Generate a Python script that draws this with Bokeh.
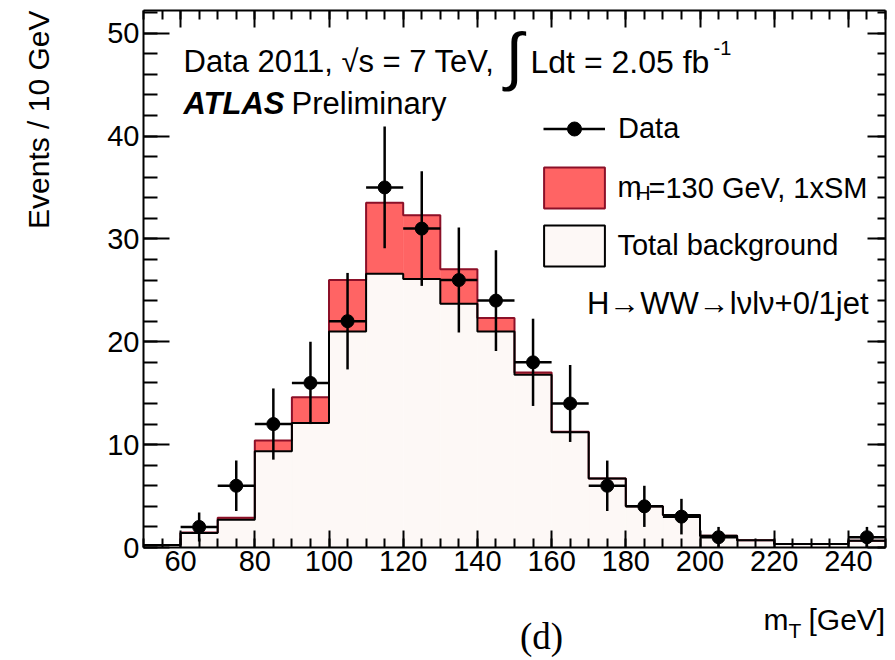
import math
from bokeh.plotting import figure
from bokeh.models import (ColumnDataSource, Label, Legend, LegendItem, LinearAxis,
                          SingleIntervalTicker, Range1d, CustomJSTickFormatter)
from bokeh.embed import file_html
from bokeh.resources import INLINE

# ---------------- data ----------------
bin_edges = [50, 60, 70, 80, 90, 100, 110, 120, 130, 140, 150,
             160, 170, 180, 190, 200, 210, 220, 230, 240, 250]
background = [0.25, 1.4, 2.7, 9.35, 12.1, 21.0, 26.6, 26.1, 23.7, 21.0,
              16.8, 11.2, 6.7, 4.0, 3.15, 1.15, 0.7, 0.35, 0.35, 0.65]
signal = [0.0, 0.05, 0.2, 1.05, 2.5, 5.0, 6.9, 6.2, 3.35, 1.3,
          0.2, 0.05, 0.0, 0.0, 0.0, 0.0, 0.0, 0.0, 0.0, 0.0]
data_x = [65, 75, 85, 95, 105, 115, 125, 135, 145, 155, 165, 175, 185, 195, 205, 245]
data_y = [2, 6, 12, 16, 22, 35, 31, 26, 24, 18, 14, 6, 4, 3, 1, 1]
data_err = [1.41, 2.45, 3.46, 4.0, 4.69, 5.92, 5.57, 5.10, 4.90, 4.24, 3.74,
            2.45, 2.0, 1.73, 1.0, 1.0]

XMIN, XMAX = 50, 250
YMIN, YMAX = 0, 52.2

RED = "#FF6464"
DARKRED = "#8C1028"
BKG = "#FDF8F6"
FONT = "Liberation Sans"

# ---------------- page layout (pixels) ----------------
W, H = 895, 660
FL, FR, FT, FB = 143, 885, 10, 547      # where the axes box sits on the page
SX = (FR - FL) / (XMAX - XMIN)
SY = (FB - FT) / (YMAX - YMIN)


def dx(px):
    return XMIN + (px - FL) / SX


def dy(py):
    return YMIN + (FB - py) / SY


# ---------------- derived sources ----------------
total = [b + s for b, s in zip(background, signal)]
half = (bin_edges[1] - bin_edges[0]) / 2.0
bins = ColumnDataSource(dict(left=bin_edges[:-1], right=bin_edges[1:],
                             bkg=background, tot=total))
steps_bkg = ColumnDataSource(dict(x=bin_edges, y=background + [background[-1]]))
steps_tot = ColumnDataSource(dict(x=bin_edges, y=total + [total[-1]]))
pts = ColumnDataSource(dict(
    x=data_x, y=data_y,
    lo=[y - e for y, e in zip(data_y, data_err)],
    hi=[y + e for y, e in zip(data_y, data_err)],
    xl=[x - half for x in data_x], xr=[x + half for x in data_x]))

# ---------------- figure (frame = whole canvas, axes at fixed locations) ----------------
p = figure(width=W, height=H,
           x_range=Range1d(dx(0), dx(W)), y_range=Range1d(dy(H), dy(0)),
           output_backend="svg", toolbar_location=None,
           min_border_left=0, min_border_right=0, min_border_top=0, min_border_bottom=0)
p.xgrid.visible = False
p.ygrid.visible = False
p.outline_line_color = None
p.background_fill_color = "white"
p.border_fill_color = "white"


def style_axis(ax, tin, tmin, loc, bounds, labels=True):
    ax.fixed_location = loc
    ax.bounds = bounds
    ax.axis_line_width = 2
    ax.axis_line_color = "black"
    ax.major_tick_line_width = 2
    ax.minor_tick_line_width = 2
    ax.major_tick_line_color = "black"
    ax.minor_tick_line_color = "black"
    ax.major_tick_out = 0
    ax.minor_tick_out = 0
    ax.major_tick_in = tin
    ax.minor_tick_in = tmin
    if labels:
        ax.major_label_text_font = FONT
        ax.major_label_text_font_size = "29px"
        ax.major_label_text_color = "black"
    else:
        ax.formatter = CustomJSTickFormatter(code="return ''")
        ax.major_label_text_font_size = "1px"
        ax.major_label_standoff = 0


p.xaxis.ticker = SingleIntervalTicker(interval=20, num_minor_ticks=4)
p.yaxis.ticker = SingleIntervalTicker(interval=10, num_minor_ticks=5)
style_axis(p.xaxis[0], 17, 9, YMIN, (XMIN, XMAX))
style_axis(p.yaxis[0], 26, 14, XMIN, (YMIN, YMAX))
p.xaxis.major_label_standoff = 3
p.yaxis.major_label_standoff = 4

top_ax = LinearAxis(ticker=SingleIntervalTicker(interval=20, num_minor_ticks=4))
style_axis(top_ax, 17, 9, YMAX, (XMIN, XMAX), labels=False)
p.add_layout(top_ax, "above")
right_ax = LinearAxis(ticker=SingleIntervalTicker(interval=10, num_minor_ticks=5))
style_axis(right_ax, 18, 8, XMAX, (YMIN, YMAX), labels=False)
p.add_layout(right_ax, "right")

# ---------------- histograms ----------------
p.quad(left="left", right="right", bottom="bkg", top="tot", source=bins,
       fill_color=RED, line_color=RED, line_width=0.5)
p.quad(left="left", right="right", bottom=0, top="bkg", source=bins,
       fill_color=BKG, line_color=BKG, line_width=0.5)
p.step(x="x", y="y", source=steps_tot, mode="after", line_color=DARKRED, line_width=2)
p.step(x="x", y="y", source=steps_bkg, mode="after", line_color="black", line_width=2)

# legend proxies (not drawn in the plot)
sig_proxy = p.quad(left="left", right="right", bottom=0, top="tot", source=bins,
                   fill_color=RED, line_color=DARKRED, line_width=2, visible=False)
bkg_proxy = p.quad(left="left", right="right", bottom=0, top="bkg", source=bins,
                   fill_color=BKG, line_color="black", line_width=2, visible=False)

# ---------------- data points ----------------
r_v = p.segment(x0="x", y0="lo", x1="x", y1="hi", source=pts, line_color="black", line_width=2.5)
r_h = p.segment(x0="xl", y0="y", x1="xr", y1="y", source=pts, line_color="black", line_width=2.5)
r_d = p.scatter(x="x", y="y", source=pts, size=13, color="black")

# ---------------- legends ----------------
leg_a = Legend(items=[LegendItem(label="Data", renderers=[r_h, r_d])],
               location=(543, H - 145.5), glyph_width=62, glyph_height=35,
               label_height=35, label_standoff=13, padding=0, margin=0,
               border_line_color=None, background_fill_alpha=0,
               label_text_font=FONT, label_text_font_size="29px", label_text_color="black")
leg_b = Legend(items=[LegendItem(label="m", renderers=[sig_proxy]),
                      LegendItem(label="Total background", renderers=[bkg_proxy])],
               location=(536.4, H - 271.1), glyph_width=76, glyph_height=51,
               label_height=51, spacing=7, label_standoff=5, padding=0, margin=0,
               border_line_color=None, background_fill_alpha=0,
               label_text_font=FONT, label_text_font_size="29px", label_text_color="black")
p.add_layout(leg_a)
p.add_layout(leg_b)


# ---------------- text ----------------
def lab(text, px, py, size, align="left", style="normal", font=FONT, angle=0.0):
    p.add_layout(Label(x=dx(px), y=dy(py), text=text, text_font=font,
                       text_font_size=size, text_align=align, text_baseline="middle",
                       text_font_style=style, text_color="black", angle=angle))


lab("Events / 10 GeV", 38, 10, "30px", align="right", angle=math.pi / 2)
lab("Data 2011, \u221as = 7 TeV,", 183, 61, "31px")
lab("\u222b", 505, 55, "64px")
lab("Ldt = 2.05 fb", 530, 61, "32px")
lab("-1", 713, 47, "20px")
lab("ATLAS", 183, 103, "31px", style="bold italic")
lab("Preliminary", 291, 103, "31px")
lab("H\u2192WW\u2192l\u03bdl\u03bd+0/1jet", 868, 303, "31px", align="right")
lab("H", 635, 192, "21px")
lab("=130 GeV, 1xSM", 648, 187, "29px")
lab("m", 763, 619, "30px")
lab("T", 788, 630, "21px")
lab("[GeV]", 808, 619, "30px")
lab("(d)", 541, 636, "37px", align="center", font="Liberation Serif")

open("out.html", "w").write(file_html(p, INLINE))
